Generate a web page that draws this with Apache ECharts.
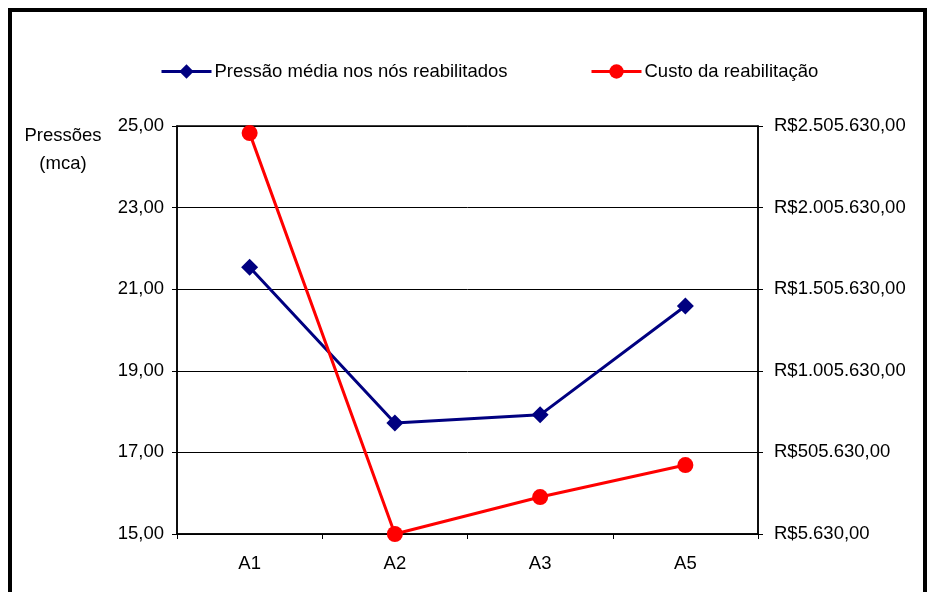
<!DOCTYPE html>
<html lang="pt">
<head>
    <meta charset="UTF-8">
    <title>Pressões e custo da reabilitação</title>
    <script src="https://cdn.jsdelivr.net/npm/echarts@6/dist/echarts.min.js"></script>
    <style>
        html, body { margin: 0; padding: 0; background: #fff; }
        #main { width: 929px; height: 592px; }
    </style>
</head>
<body>
<div id="main"></div>
<script>
    // dados
    var categorias = ['A1', 'A2', 'A3', 'A5'];
    var pressaoMedia = [21.54, 17.72, 17.92, 20.59];
    var custoReab = [2462000, 5630, 232000, 428000];
    var custoBase = 5630;   // primeiro rótulo do eixo da direita

    var fonte = '"Liberation Sans", Arial, sans-serif';
    var tam = 18.5;

    function fmtReal(v) {
        var n = Math.round(v + custoBase);
        var s = String(n).replace(/\B(?=(\d{3})+(?!\d))/g, '.');
        return 'R$' + s + ',00';
    }

    var chart = echarts.init(document.getElementById('main'));
    var option = {
        backgroundColor: '#fff',
        animation: false,
        textStyle: { fontFamily: fonte, color: '#000' },
        graphic: [
            {
                type: 'polyline',
                shape: { points: [[10, 600], [10, 10], [925, 10], [925, 600]] },
                style: { stroke: '#000', lineWidth: 4, fill: null }
            },
            {
                type: 'text',
                x: 63, y: 122,
                style: {
                    text: 'Pressões\n(mca)', fill: '#000', font: tam + 'px ' + fonte,
                    align: 'center', lineHeight: 28
                }
            }
        ],
        legend: [
            {
                data: ['Pressão média nos nós reabilitados'],
                left: 160, top: 62, padding: 0, itemGap: 0,
                itemWidth: 50, itemHeight: 18,
                lineStyle: { width: 3 },
                textStyle: { fontSize: tam, fontFamily: fonte, color: '#000', padding: [0, 0, 0, -2] }
            },
            {
                data: ['Custo da reabilitação'],
                left: 590, top: 62, padding: 0, itemGap: 0,
                itemWidth: 50, itemHeight: 18,
                lineStyle: { width: 3 },
                textStyle: { fontSize: tam, fontFamily: fonte, color: '#000', padding: [0, 0, 0, -2] }
            }
        ],
        grid: {
            left: 177, right: 171, top: 126, bottom: 58,
            show: true, borderColor: '#000', borderWidth: 1.5
        },
        xAxis: {
            type: 'category',
            data: categorias,
            boundaryGap: true,
            axisLine: { lineStyle: { color: '#000', width: 1.5 } },
            axisTick: { show: true, length: 5, alignWithLabel: false, lineStyle: { color: '#000' } },
            axisLabel: { fontSize: tam, color: '#000', margin: 20, fontFamily: fonte }
        },
        yAxis: [
            {
                type: 'value',
                min: 15, max: 25, interval: 2,
                axisLine: { show: true, lineStyle: { color: '#000', width: 1.5 } },
                axisTick: { show: true, length: 5, lineStyle: { color: '#000' } },
                splitLine: { show: true, lineStyle: { color: '#000', width: 1 } },
                axisLabel: {
                    fontSize: tam, color: '#000', margin: 13, fontFamily: fonte,
                    formatter: function (v) { return v.toFixed(2).replace('.', ','); }
                }
            },
            {
                type: 'value',
                min: 0, max: 2500000, interval: 500000,
                position: 'right',
                axisLine: { show: true, lineStyle: { color: '#000', width: 1.5 } },
                axisTick: { show: true, length: 5, lineStyle: { color: '#000' } },
                splitLine: { show: false },
                axisLabel: {
                    fontSize: tam, color: '#000', margin: 16, fontFamily: fonte,
                    formatter: fmtReal
                }
            }
        ],
        series: [
            {
                name: 'Pressão média nos nós reabilitados',
                type: 'line',
                yAxisIndex: 0,
                data: pressaoMedia,
                symbol: 'diamond',
                symbolSize: 17,
                lineStyle: { color: '#000080', width: 3 },
                itemStyle: { color: '#000080' },
                z: 3
            },
            {
                name: 'Custo da reabilitação',
                type: 'line',
                yAxisIndex: 1,
                data: custoReab.map(function (v) { return v - custoBase; }),
                symbol: 'circle',
                symbolSize: 16,
                lineStyle: { color: '#ff0000', width: 3 },
                itemStyle: { color: '#ff0000' },
                z: 4
            }
        ]
    };
    chart.setOption(option);
</script>
</body>
</html>
